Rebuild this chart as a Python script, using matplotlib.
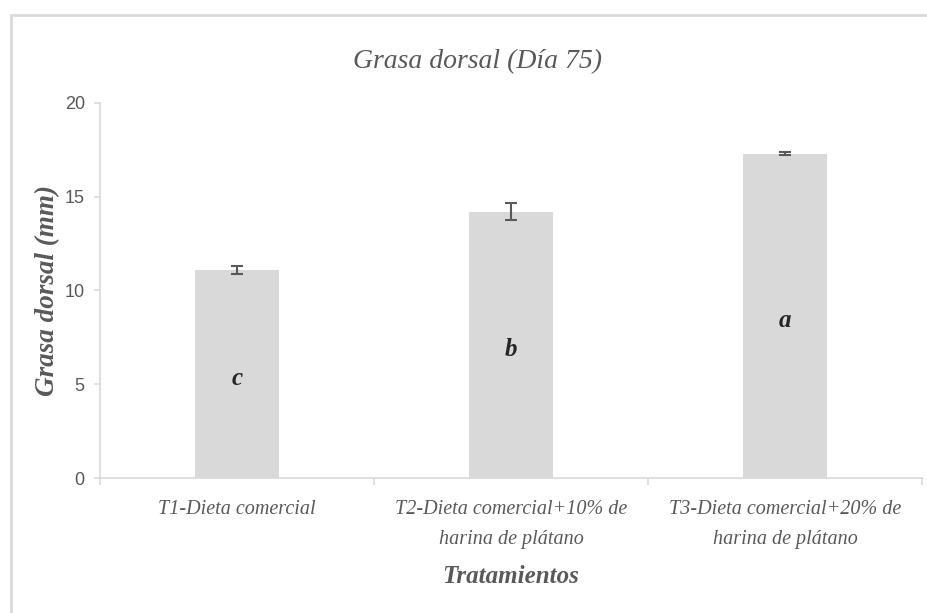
import matplotlib

matplotlib.use("Agg")
import matplotlib.pyplot as plt
from matplotlib.patches import Rectangle
import numpy as np

# Backfat thickness at day 75, by diet treatment
categories = [
    "T1-Dieta comercial",
    "T2-Dieta comercial+10% de\nharina de plátano",
    "T3-Dieta comercial+20% de\nharina de plátano",
]
means = [11.1, 14.2, 17.3]
errors = [0.2, 0.45, 0.1]
letters = ["c", "b", "a"]
yticks = [0, 5, 10, 15, 20]

TEXT = "#595959"
SERIF = ["Liberation Serif", "DejaVu Serif"]

fig = plt.figure(figsize=(9.28, 6.13), dpi=100)
ax = fig.add_axes([0.1078, 0.2202, 0.8857, 0.612])

# outer frame of the chart area (runs off the right and bottom edges)
fig.patches.append(Rectangle((11 / 928, -0.05), 1.1, 1 - 15 / 613 + 0.05,
                             transform=fig.transFigure, fill=False,
                             edgecolor="#d9d9d9", linewidth=2.0))

x = np.arange(len(categories))
ax.bar(x, means, width=0.31, color="#d9d9d9", zorder=2)
ax.errorbar(x, means, yerr=errors, fmt="none", ecolor="#595959",
            elinewidth=1.5, capsize=4, capthick=1.5, zorder=3)

# significance letters sit in the middle of each bar
for xi, m, lab in zip(x, means, letters):
    ax.text(xi, m / 2 - 0.25, lab, ha="center", va="center", fontsize=18,
            fontstyle="italic", fontweight="bold", family=SERIF, color="#262626")

ax.set_xlim(-0.5, 2.5)
ax.set_ylim(0, 20)
ax.set_yticks(yticks)
ax.set_yticklabels([str(t) for t in yticks], family=["Liberation Sans"],
                   fontsize=13, color=TEXT)
ax.set_xticks(x)
ax.set_xticklabels(categories, family=SERIF, fontstyle="italic",
                   fontsize=14.5, color=TEXT, linespacing=1.75)
ax.set_xticks([-0.5, 0.5, 1.5, 2.5], minor=True)
ax.tick_params(axis="x", which="major", length=0, pad=16)
ax.tick_params(axis="x", which="minor", length=5, color="#d9d9d9", width=1.2)
ax.tick_params(axis="y", length=4, color="#d9d9d9", width=1.2, pad=7)

for side in ("top", "right"):
    ax.spines[side].set_visible(False)
for side in ("left", "bottom"):
    ax.spines[side].set_color("#d9d9d9")
    ax.spines[side].set_linewidth(1.2)

ax.set_ylabel("Grasa dorsal (mm)", family=SERIF, fontstyle="italic",
              fontweight="bold", fontsize=19.5, color=TEXT, labelpad=3)
ax.set_xlabel("Tratamientos", family=SERIF, fontstyle="italic",
              fontweight="bold", fontsize=18, color=TEXT, labelpad=12)
fig.text(0.515, 0.899, "Grasa dorsal (Día 75)", ha="center", va="center",
         family=SERIF, fontstyle="italic", fontsize=20, color=TEXT)

fig.savefig("out.png", dpi=100)
